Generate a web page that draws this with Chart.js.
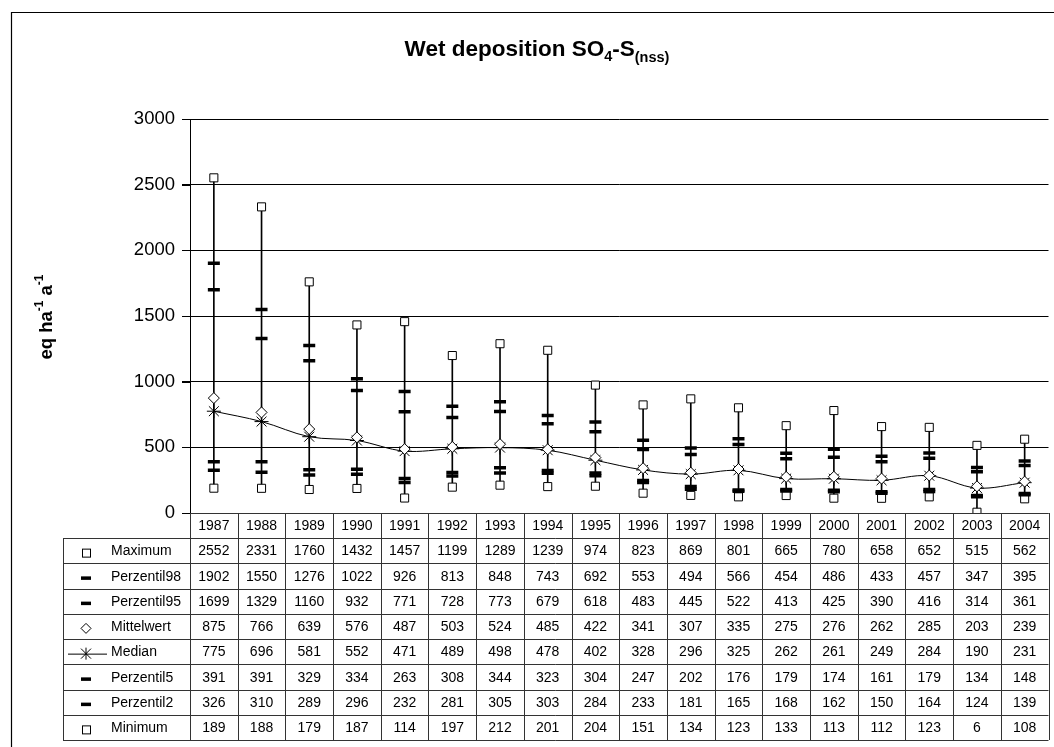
<!DOCTYPE html>
<html>
<head>
<meta charset="utf-8">
<script src="https://cdn.jsdelivr.net/npm/chart.js@4/dist/chart.umd.min.js"></script>
<style>
  html, body { margin: 0; padding: 0; background: #fff; overflow: hidden; }
  #wrap { width: 1058px; height: 747px; }
</style>
</head>
<body>
<div id="wrap"><canvas id="depChart" width="1058" height="747"></canvas></div>
<script>
const years = ['1987','1988','1989','1990','1991','1992','1993','1994','1995','1996','1997','1998','1999','2000','2001','2002','2003','2004'];
const maximum   = [2552, 2331, 1760, 1432, 1457, 1199, 1289, 1239, 974, 823, 869, 801, 665, 780, 658, 652, 515, 562];
const perz98    = [1902, 1550, 1276, 1022, 926, 813, 848, 743, 692, 553, 494, 566, 454, 486, 433, 457, 347, 395];
const perz95    = [1699, 1329, 1160, 932, 771, 728, 773, 679, 618, 483, 445, 522, 413, 425, 390, 416, 314, 361];
const mittelwert = [875, 766, 639, 576, 487, 503, 524, 485, 422, 341, 307, 335, 275, 276, 262, 285, 203, 239];
const median    = [775, 696, 581, 552, 471, 489, 498, 478, 402, 328, 296, 325, 262, 261, 249, 284, 190, 231];
const perz5     = [391, 391, 329, 334, 263, 308, 344, 323, 304, 247, 202, 176, 179, 174, 161, 179, 134, 148];
const perz2     = [326, 310, 289, 296, 232, 281, 305, 303, 284, 233, 181, 165, 168, 162, 150, 164, 124, 139];
const minimum   = [189, 188, 179, 187, 114, 197, 212, 201, 204, 151, 134, 123, 133, 113, 112, 123, 6, 108];
const yTicks = [0, 500, 1000, 1500, 2000, 2500, 3000];

const FONT = '"Liberation Sans", Arial, sans-serif';

// rows of the data table under the chart, in the reference order
const tableRows = [
    { label: 'Maximum', values: maximum, sym: 'square' },
    { label: 'Perzentil98', values: perz98, sym: 'dash' },
    { label: 'Perzentil95', values: perz95, sym: 'dash' },
    { label: 'Mittelwert', values: mittelwert, sym: 'diamond' },
    { label: 'Median', values: median, sym: 'star' },
    { label: 'Perzentil5', values: perz5, sym: 'dash' },
    { label: 'Perzentil2', values: perz2, sym: 'dash' },
    { label: 'Minimum', values: minimum, sym: 'square' }
];

function drawSymbol(ctx, sym, x, y) {
    ctx.save();
    ctx.strokeStyle = '#000';
    ctx.fillStyle = '#fff';
    ctx.lineWidth = 1;
    if (sym === 'square') {
        ctx.fillRect(x - 4, y - 4, 8, 8);
        ctx.strokeRect(x - 4 + 0.5, y - 4 + 0.5, 8, 8);
    } else if (sym === 'dash') {
        ctx.fillStyle = '#000';
        ctx.fillRect(x - 5, y - 1.5, 10, 3.5);
    } else if (sym === 'diamond') {
        ctx.beginPath();
        ctx.moveTo(x, y - 5); ctx.lineTo(x + 5, y); ctx.lineTo(x, y + 5); ctx.lineTo(x - 5, y);
        ctx.closePath(); ctx.fill(); ctx.stroke();
    } else if (sym === 'star') {
        ctx.beginPath();
        ctx.moveTo(x - 18, y + 0.5); ctx.lineTo(x + 21, y + 0.5);
        ctx.moveTo(x - 5, y - 5); ctx.lineTo(x + 5, y + 5);
        ctx.moveTo(x + 5, y - 5); ctx.lineTo(x - 5, y + 5);
        ctx.moveTo(x, y - 6); ctx.lineTo(x, y + 6);
        ctx.stroke();
    }
    ctx.restore();
}

// draws text pieces with sub/superscript offsets, centred on cx
function drawRichText(ctx, parts, cx, cy) {
    let w = 0;
    parts.forEach(p => { ctx.font = p[1]; w += ctx.measureText(p[0]).width; });
    let x = cx - w / 2;
    parts.forEach(p => {
        ctx.font = p[1];
        ctx.textAlign = 'left';
        ctx.fillText(p[0], x, cy + p[2]);
        x += ctx.measureText(p[0]).width;
    });
}

const framePlugin = {
    id: 'frame',
    beforeDraw: (chart) => {
        const ctx = chart.ctx;
        ctx.save();
        ctx.fillStyle = '#fff';
        ctx.fillRect(0, 0, chart.width, chart.height);
        ctx.strokeStyle = '#000';
        ctx.lineWidth = 1.2;
        ctx.beginPath();
        ctx.moveTo(11.5, chart.height + 2);
        ctx.lineTo(11.5, 12.5);
        ctx.lineTo(chart.width + 2, 12.5);
        ctx.stroke();
        ctx.restore();
    },
    afterDraw: (chart) => {
        const ctx = chart.ctx;
        const area = chart.chartArea;
        const xs = chart.scales.x;
        const ys = chart.scales.y;
        const colW = (area.right - area.left) / years.length;

        ctx.save();
        ctx.fillStyle = '#000';
        ctx.textBaseline = 'alphabetic';

        // small tick marks left of the value axis
        ctx.strokeStyle = '#000';
        ctx.lineWidth = 1;
        ctx.beginPath();
        yTicks.forEach(v => {
            const py = Math.round(ys.getPixelForValue(v)) + 0.5;
            ctx.moveTo(area.left - 8, py); ctx.lineTo(area.left, py);
        });
        ctx.stroke();

        // title with subscripts
        drawRichText(ctx, [
            ['Wet deposition SO', 'bold 22.5px ' + FONT, 0],
            ['4', 'bold 14.5px ' + FONT, 5],
            ['-S', 'bold 22.5px ' + FONT, 0],
            ['(nss)', 'bold 14.5px ' + FONT, 6]
        ], 537, 56);

        // y axis title, rotated, with superscripts
        ctx.save();
        ctx.translate(52, (area.top + area.bottom) / 2 + 1);
        ctx.rotate(-Math.PI / 2);
        drawRichText(ctx, [
            ['eq ha', 'bold 18.5px ' + FONT, 0],
            ['-1', 'bold 12px ' + FONT, -9],
            [' a', 'bold 18.5px ' + FONT, 0],
            ['-1', 'bold 12px ' + FONT, -9]
        ], 0, 0);
        ctx.restore();

        // data table
        const yearTop = area.bottom;
        const tableTop = 538;
        const rowH = 25.25;
        const tableBottom = tableTop + rowH * tableRows.length;
        const legendLeft = 63;

        ctx.strokeStyle = '#333';
        ctx.lineWidth = 1;
        ctx.beginPath();
        ctx.moveTo(area.left, yearTop + 0.5); ctx.lineTo(area.right, yearTop + 0.5);
        for (let r = 0; r <= tableRows.length; r++) {
            const yy = Math.round(tableTop + r * rowH) + 0.5;
            ctx.moveTo(legendLeft, yy); ctx.lineTo(area.right, yy);
        }
        ctx.moveTo(legendLeft + 0.5, tableTop); ctx.lineTo(legendLeft + 0.5, tableBottom);
        for (let i = 0; i <= years.length; i++) {
            const xx = Math.round(area.left + i * colW) + 0.5;
            ctx.moveTo(xx, yearTop); ctx.lineTo(xx, tableBottom);
        }
        ctx.stroke();

        ctx.font = '14px ' + FONT;
        ctx.textBaseline = 'middle';
        ctx.textAlign = 'center';
        years.forEach((yr, i) => {
            ctx.fillText(yr, xs.getPixelForValue(i), yearTop + 13);
        });
        tableRows.forEach((row, r) => {
            const cy = tableTop + r * rowH + rowH / 2 + 1;
            ctx.textAlign = 'left';
            ctx.fillStyle = '#000';
            ctx.fillText(row.label, 111, cy);
            drawSymbol(ctx, row.sym, 86, cy + 1);
            ctx.textAlign = 'center';
            row.values.forEach((v, i) => {
                ctx.fillText(String(v), xs.getPixelForValue(i), cy);
            });
        });
        ctx.restore();
    }
};

const rangeData = years.map((_, i) => [minimum[i], maximum[i]]);

const markerSet = (label, data, style, radius, width, fill) => ({
    type: 'line',
    label: label,
    data: data,
    showLine: false,
    pointStyle: style,
    pointRadius: radius,
    pointBorderWidth: width,
    pointBorderColor: '#000',
    pointBackgroundColor: fill,
    order: 1
});

new Chart(document.getElementById('depChart'), {
    data: {
        labels: years,
        datasets: [
            {
                type: 'bar',
                label: 'range',
                data: rangeData,
                backgroundColor: '#000',
                barThickness: 1,
                order: 10
            },
            {
                type: 'line',
                label: 'Median',
                data: median,
                borderColor: '#000',
                borderWidth: 1,
                tension: 0.35,
                pointStyle: 'star',
                pointRadius: 7,
                pointBorderWidth: 1,
                pointBorderColor: '#000',
                order: 5
            },
            markerSet('Maximum', maximum, 'rect', 5.7, 1, '#fff'),
            markerSet('Perzentil98', perz98, 'line', 6, 3.5, '#000'),
            markerSet('Perzentil95', perz95, 'line', 6, 3.5, '#000'),
            markerSet('Mittelwert', mittelwert, 'rectRot', 5.5, 1, '#fff'),
            markerSet('Perzentil5', perz5, 'line', 6, 3.5, '#000'),
            markerSet('Perzentil2', perz2, 'line', 6, 3.5, '#000'),
            markerSet('Minimum', minimum, 'rect', 5.7, 1, '#fff')
        ]
    },
    plugins: [framePlugin],
    options: {
        responsive: false,
        animation: false,
        layout: { padding: { left: 0, right: 0, top: 119, bottom: 747 - 513 } },
        plugins: {
            legend: { display: false },
            tooltip: { enabled: false }
        },
        scales: {
            x: {
                display: false,
                offset: true
            },
            y: {
                min: 0,
                max: 3000,
                afterBuildTicks: (scale) => { scale.ticks = yTicks.map(v => ({ value: v })); },
                afterFit: (scale) => { scale.width = 190; },
                ticks: {
                    color: '#000',
                    padding: 7,
                    font: { family: FONT, size: 18.5 },
                    callback: (v) => String(v)
                },
                grid: {
                    color: '#000',
                    tickColor: '#000',
                    lineWidth: 1,
                    drawTicks: true,
                    tickLength: 8
                },
                border: { color: '#000', width: 1 }
            }
        }
    }
});
</script>
</body>
</html>
